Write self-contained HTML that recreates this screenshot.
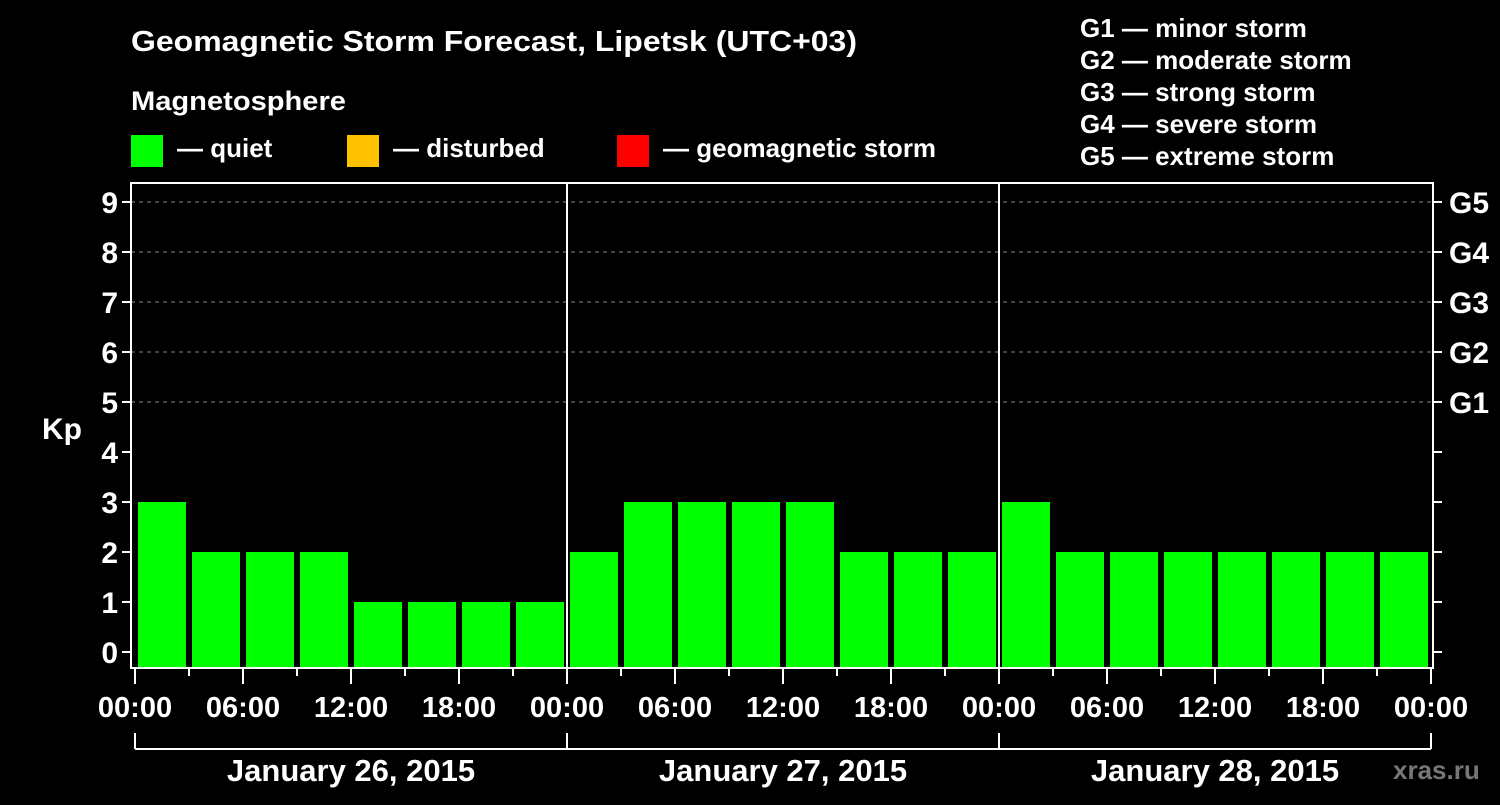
<!DOCTYPE html>
<html><head><meta charset="utf-8"><style>
body{margin:0;background:#000;width:1500px;height:800px;overflow:hidden}
svg text{font-family:"Liberation Sans",Arial,sans-serif;font-weight:bold;fill:#fff}
</style></head><body>
<svg id="c" width="1500" height="800" xmlns="http://www.w3.org/2000/svg">
<rect width="1500" height="800" fill="#000"/>
<text x="131" y="51" font-size="29" textLength="726" lengthAdjust="spacingAndGlyphs">Geomagnetic Storm Forecast, Lipetsk (UTC+03)</text>
<text x="131" y="110" font-size="27" textLength="215" lengthAdjust="spacingAndGlyphs">Magnetosphere</text>
<g><rect x="131" y="135" width="32" height="32" fill="#00ff00"/><text x="177" y="157" font-size="26">— quiet</text></g>
<g><rect x="347" y="135" width="32" height="32" fill="#ffc000"/><text x="393" y="157" font-size="26">— disturbed</text></g>
<g><rect x="617" y="135" width="32" height="32" fill="#ff0000"/><text x="663" y="157" font-size="26">— geomagnetic storm</text></g>
<g font-size="26">
<text x="1080" y="37">G1 — minor storm</text>
<text x="1080" y="69">G2 — moderate storm</text>
<text x="1080" y="101">G3 — strong storm</text>
<text x="1080" y="133">G4 — severe storm</text>
<text x="1080" y="165">G5 — extreme storm</text>
</g>
<text x="42" y="439" font-size="30">Kp</text>
<text x="1393" y="779" font-size="26" style="fill:#777">xras.ru</text>
<g id="grid"></g><g id="bars"></g><g id="axes"></g>
</svg>
<script>
const days=["January 26, 2015","January 27, 2015","January 28, 2015"];
const kp=[3,2,2,2,1,1,1,1, 2,3,3,3,3,2,2,2, 3,2,2,2,2,2,2,2];
const yTicks=[0,1,2,3,4,5,6,7,8,9];
const gLabels=["G1","G2","G3","G4","G5"];
const hourLabels=["00:00","06:00","12:00","18:00"];
const NS="http://www.w3.org/2000/svg";
const X0=135,PXH=18,L=131,R=1433,T=183,B=668;
const xs=h=>X0+h*PXH; const ys=v=>652-v*50;
function mk(p,tag,a){const e=document.createElementNS(NS,tag);for(const k in a)e.setAttribute(k,a[k]);document.getElementById(p).appendChild(e);return e;}
yTicks.forEach(v=>{if(v>=5){const g=mk('grid','line',{x1:L,x2:R,y1:ys(v),y2:ys(v),stroke:'#888','stroke-dasharray':'4,4','stroke-width':1});

}
mk('axes','line',{x1:L-9,x2:L,y1:ys(v),y2:ys(v),stroke:'#fff','stroke-width':2});
mk('axes','line',{x1:R,x2:R+9,y1:ys(v),y2:ys(v),stroke:'#fff','stroke-width':2});
const t=mk('axes','text',{x:L-13,y:ys(v)+11,'font-size':30,'text-anchor':'end'});t.textContent=v;

});
gLabels.forEach((g,i)=>{const t=mk('axes','text',{x:1449,y:ys(5+i)+11,'font-size':30});t.textContent=g;

});
kp.forEach((v,i)=>{const col=v>=5?'#ff0000':v>=4?'#ffc000':'#00ff00';
const r=mk('bars','rect',{x:xs(i*3)+3,y:ys(v),width:48,height:B-ys(v),fill:col});

});
mk('axes','rect',{x:L,y:T,width:R-L,height:B-T,fill:'none',stroke:'#fff','stroke-width':2});
for(let d=1;d<days.length;d++)mk('axes','line',{x1:xs(d*24),x2:xs(d*24),y1:T,y2:B,stroke:'#fff','stroke-width':2});
for(let h=0;h<=72;h+=3){mk('axes','line',{x1:xs(h),x2:xs(h),y1:B,y2:B+(h%6?8:16),stroke:'#fff','stroke-width':2});
if(h%6===0){const t=mk('axes','text',{x:xs(h),y:717,'font-size':29,'text-anchor':'middle'});t.textContent=hourLabels[(h/6)%4];

}}
mk('axes','line',{x1:xs(0),x2:xs(72),y1:749,y2:749,stroke:'#fff','stroke-width':2});
for(let d=0;d<=days.length;d++)mk('axes','line',{x1:xs(d*24),x2:xs(d*24),y1:733,y2:749,stroke:'#fff','stroke-width':2});
days.forEach((s,d)=>{const t=mk('axes','text',{x:xs(d*24+12),y:781,'font-size':31,'text-anchor':'middle'});t.textContent=s;

});
</script>
</body></html>
